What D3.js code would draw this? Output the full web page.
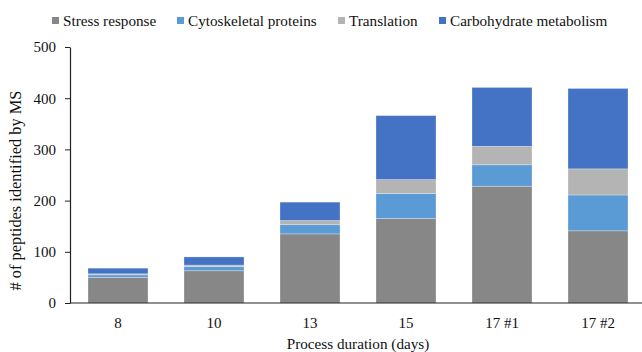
<!DOCTYPE html>
<html>
<head>
<meta charset="utf-8">
<script src="https://cdn.jsdelivr.net/npm/d3@7"></script>
<style>
  body { margin: 0; background: #fff; }
  svg { display: block; }
  text { font-family: "Liberation Serif", "Times New Roman", serif; fill: #111; }
</style>
</head>
<body>
<svg id="chart" width="642" height="352"></svg>
<script>
// Process duration groups
const categories = ["8", "10", "13", "15", "17 #1", "17 #2"];
// Peptide counts per functional class, stacked bottom to top
const seriesNames = ["Stress response", "Cytoskeletal proteins", "Translation", "Carbohydrate metabolism"];
const stressResponse = [50, 63, 135, 165, 228, 141];
const cytoskeletal   = [5, 8, 18, 49, 42, 70];
const translation    = [2, 3, 8, 27, 36, 51];
const carbohydrate   = [11, 16, 36, 125, 115, 157];
const yTicks = [0, 100, 200, 300, 400, 500];
const colors = ["#878787", "#5b9bd5", "#b4b4b4", "#4472c4"];

const svg = d3.select("#chart");
const margin = { left: 70, right: -4, top: 47, bottom: 49 };
const W = 642, H = 352;

const rows = categories.map((c, i) => ({
  cat: c,
  "Stress response": stressResponse[i],
  "Cytoskeletal proteins": cytoskeletal[i],
  "Translation": translation[i],
  "Carbohydrate metabolism": carbohydrate[i]
}));

const x = d3.scaleBand().domain(categories)
  .range([margin.left, W - margin.right]).paddingInner(0.375).paddingOuter(0.1875);
const y = d3.scaleLinear().domain([0, 500]).range([H - margin.bottom, margin.top]);

const stack = d3.stack().keys(seriesNames)(rows);

svg.append("g").selectAll("g").data(stack).join("g")
  .attr("fill", (d, i) => colors[i])
  .selectAll("rect").data(d => d).join("rect")
  .attr("x", d => x(d.data.cat))
  .attr("width", x.bandwidth())
  .attr("y", d => y(d[1]))
  .attr("height", d => y(d[0]) - y(d[1]))
  .attr("stroke", "rgba(255,255,255,0.35)")
  .attr("stroke-width", 0.8);

// Y axis
const yAxis = svg.append("g")
  .attr("transform", `translate(${margin.left},0)`)
  .call(d3.axisLeft(y).tickValues(yTicks).tickSize(5).tickSizeOuter(0).tickPadding(9));
yAxis.select(".domain").attr("stroke", "#222").attr("stroke-width", 1.2);
yAxis.selectAll(".tick line").attr("stroke", "#222");
yAxis.selectAll("text").style("font-size", "15px").attr("fill", "#111")
  .style("font-family", '"Liberation Serif", serif');

// X axis baseline and labels
svg.append("line")
  .attr("x1", margin.left).attr("x2", 642)
  .attr("y1", y(0)).attr("y2", y(0))
  .attr("stroke", "#222").attr("stroke-width", 1.2);

svg.append("g").selectAll("text").data(categories).join("text")
  .attr("x", d => x(d) + x.bandwidth() / 2)
  .attr("y", 328)
  .attr("text-anchor", "middle")
  .style("font-size", "15px")
  .text(d => d);

// Axis titles
svg.append("text")
  .attr("x", 358).attr("y", 349)
  .attr("text-anchor", "middle")
  .style("font-size", "15.2px")
  .text("Process duration (days)");

svg.append("text")
  .attr("transform", "translate(21,190.5) rotate(-90)")
  .attr("text-anchor", "middle")
  .style("font-size", "16.4px")
  .text("# of peptides identified by MS");

// Legend
const legendX = [52, 177, 338, 439];
const lg = svg.append("g").selectAll("g").data(seriesNames).join("g")
  .attr("transform", (d, i) => `translate(${legendX[i]},0)`);
lg.append("rect").attr("x", 0).attr("y", 17).attr("width", 7).attr("height", 7)
  .attr("fill", (d, i) => colors[i]);
lg.append("text").attr("x", 11).attr("y", 26)
  .style("font-size", "15.2px")
  .text(d => d);
</script>
</body>
</html>
